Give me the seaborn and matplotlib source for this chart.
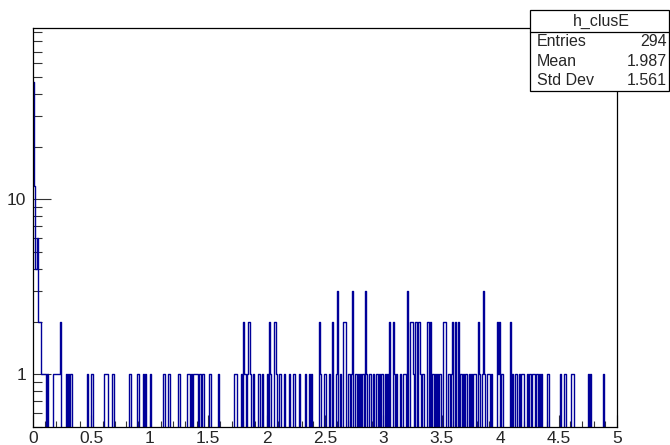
import numpy as np
import matplotlib
matplotlib.use("Agg")
import matplotlib.pyplot as plt
import seaborn as sns
from matplotlib.patches import Rectangle
from matplotlib.lines import Line2D
from matplotlib.ticker import LogLocator, MultipleLocator, FuncFormatter, NullFormatter

HIST_NAME = "h_clusE"
X_RANGE = (0.0, 5.0)
N_BINS = 500
BIN_W = (X_RANGE[1] - X_RANGE[0]) / N_BINS

# Low-energy edge of each filled bin and its content
core_lo = [0.00, 0.01, 0.02, 0.03, 0.04, 0.05, 0.06]
core_counts = [47, 12, 4, 6, 2, 2, 2]

low_lo = [0.07, 0.08, 0.09, 0.10, 0.12, 0.17, 0.18, 0.19, 0.20, 0.21, 0.22, 0.23,
          0.28, 0.30, 0.32, 0.46, 0.50, 0.61, 0.62, 0.63, 0.68, 0.82, 0.83,
          0.89, 0.90, 0.94, 0.96, 1.00, 1.11, 1.12, 1.16, 1.24, 1.25, 1.32, 1.33, 1.35,
          1.37, 1.38, 1.39, 1.40, 1.42, 1.43, 1.45, 1.51, 1.58]
low_counts = [1, 1, 1, 1, 1, 1, 1, 1, 1, 1, 1, 2,
              1, 1, 1, 1, 1, 1, 1, 1, 1, 1, 1,
              1, 1, 1, 1, 1, 1, 1, 1, 1, 1, 1, 1, 1,
              1, 1, 1, 1, 1, 1, 1, 1, 1]

mid_lo = [1.72, 1.73, 1.74, 1.78, 1.80, 1.81, 1.83, 1.84, 1.85, 1.86, 1.88,
          1.93, 1.96, 2.00, 2.02, 2.03, 2.06, 2.07, 2.08, 2.11,
          2.15, 2.19, 2.23, 2.28, 2.33, 2.36, 2.38,
          2.45, 2.46, 2.49]
mid_counts = [1, 1, 1, 1, 2, 1, 1, 2, 2, 1, 1,
              1, 1, 1, 2, 1, 2, 2, 1, 1,
              1, 1, 1, 1, 1, 1, 1,
              2, 1, 1]

upper_lo = [2.50, 2.53, 2.56, 2.59, 2.60, 2.63, 2.65, 2.66, 2.67,
            2.70, 2.72, 2.73, 2.76, 2.78, 2.80, 2.82, 2.84,
            2.85, 2.88, 2.91, 2.94, 2.96, 2.98, 2.99, 3.01,
            3.03, 3.05, 3.08, 3.09, 3.11, 3.14, 3.17, 3.18, 3.20,
            3.23, 3.24, 3.25, 3.27, 3.28, 3.30, 3.31]
upper_counts = [1, 1, 2, 1, 3, 1, 2, 2, 2,
                1, 1, 3, 1, 1, 1, 1, 3,
                1, 1, 1, 1, 1, 1, 1, 1,
                1, 2, 2, 1, 1, 1, 1, 1, 3,
                2, 2, 1, 2, 2, 2, 1]

high_lo = [3.33, 3.34, 3.37, 3.38, 3.40, 3.42, 3.44, 3.46, 3.48, 3.51, 3.52, 3.53,
           3.55, 3.56, 3.58, 3.59, 3.61, 3.64, 3.66, 3.68, 3.70, 3.71, 3.73, 3.75,
           3.77, 3.78, 3.81, 3.82, 3.84, 3.85, 3.86, 3.89, 3.90, 3.92,
           3.97, 3.98, 3.99, 4.01, 4.08, 4.10, 4.13, 4.16]
high_counts = [1, 1, 2, 2, 2, 1, 1, 1, 1, 2, 2, 2,
               1, 1, 1, 2, 2, 2, 1, 1, 1, 1, 1, 1,
               1, 1, 2, 1, 1, 3, 1, 1, 1, 1,
               2, 1, 2, 1, 2, 1, 1, 1]

tail_lo = [4.18, 4.19, 4.23, 4.25, 4.27, 4.28, 4.29, 4.31, 4.33, 4.35,
           4.40, 4.41, 4.51, 4.55, 4.61, 4.62, 4.75, 4.77, 4.88]
tail_counts = [1, 1, 1, 1, 1, 1, 1, 1, 1, 1,
               1, 1, 1, 1, 1, 1, 1, 1, 1]

x_ticks = [0, 0.5, 1, 1.5, 2, 2.5, 3, 3.5, 4, 4.5, 5]

bin_lo = np.concatenate([core_lo, low_lo, mid_lo, upper_lo, high_lo, tail_lo])
counts = np.concatenate([core_counts, low_counts, mid_counts, upper_counts,
                         high_counts, tail_counts]).astype(float)
energy = bin_lo + BIN_W / 2

entries = int(counts.sum())
mean = np.sum(energy * counts) / counts.sum()
std = np.sqrt(np.sum(counts * (energy - mean) ** 2) / counts.sum())

W, H = 670, 445
sns.set_style("ticks")
plt.rcParams["font.family"] = ["Liberation Sans", "DejaVu Sans"]

fig = plt.figure(figsize=(W / 100, H / 100), dpi=100)
L, R, T, B = 33, 617, 28.3, 427
ax = fig.add_axes([L / W, 1 - B / H, (R - L) / W, (B - T) / H])

sns.histplot(x=energy, weights=counts, bins=N_BINS, binrange=X_RANGE,
             element="step", fill=False, color="#000099", linewidth=1.0, ax=ax)
ax.set_yscale("log", nonpositive="clip")
ax.set_xlim(*X_RANGE)
ax.set_ylim(0.5, 95)
ax.set_xlabel("")
ax.set_ylabel("")

for s in ax.spines.values():
    s.set_visible(True)
    s.set_color("black")
    s.set_linewidth(0.9)

ax.set_xticks(x_ticks)
ax.xaxis.set_major_formatter(FuncFormatter(lambda v, p: f"{v:g}"))
ax.xaxis.set_minor_locator(MultipleLocator(0.1))
ax.yaxis.set_major_locator(LogLocator(base=10, numticks=10))
ax.yaxis.set_major_formatter(FuncFormatter(lambda v, p: f"{v:g}"))
ax.yaxis.set_minor_locator(LogLocator(base=10, subs=np.arange(2, 10), numticks=20))
ax.yaxis.set_minor_formatter(NullFormatter())

ax.tick_params(axis="x", which="major", direction="in", length=8.6, width=0.8,
               labelsize=12.5, pad=3, color="#333333")
ax.tick_params(axis="x", which="minor", direction="in", length=4.3, width=0.8,
               color="#333333")
ax.tick_params(axis="y", which="major", direction="in", length=13, width=0.8,
               labelsize=12.5, pad=5, color="#333333")
ax.tick_params(axis="y", which="minor", direction="in", length=6.5, width=0.8,
               color="#333333")
ax.tick_params(top=False, right=False)


def fx(px):
    return px / W


def fy(py):
    return 1 - py / H


# statistics box
bx0, bx1, by0, by1, bsep = 530, 669, 10, 91, 31.7
fig.add_artist(Rectangle((fx(bx0), fy(by1)), fx(bx1) - fx(bx0), fy(by0) - fy(by1),
                         transform=fig.transFigure, facecolor="white",
                         edgecolor="black", linewidth=0.9, zorder=10))
fig.add_artist(Line2D([fx(bx0), fx(bx1)], [fy(bsep), fy(bsep)],
                      transform=fig.transFigure, color="black", linewidth=0.9,
                      zorder=11))
fig.text(fx(601), fy(21), HIST_NAME, ha="center", va="center", fontsize=11.5,
         zorder=12)
rows = [("Entries", f"{entries}"), ("Mean", f"{mean:.3f}"), ("Std Dev", f"{std:.3f}")]
for (lab, val), py in zip(rows, [41.7, 61.5, 80.5]):
    fig.text(fx(537), fy(py), lab, ha="left", va="center", fontsize=11.5, zorder=12)
    fig.text(fx(667), fy(py), val, ha="right", va="center", fontsize=11.5, zorder=12)

fig.savefig("out.png", dpi=100)
